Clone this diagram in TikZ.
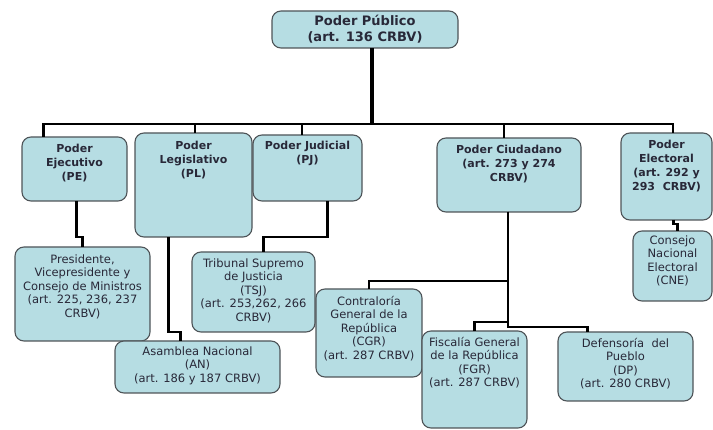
\documentclass[tikz,border=0pt]{standalone}
\usepackage{fontspec}
\setmainfont{DejaVu Sans}
\usetikzlibrary{calc}
\definecolor{cajafill}{RGB}{182,221,227}
\definecolor{cajaborde}{RGB}{78,84,88}
\definecolor{texto}{RGB}{40,40,56}
\newcommand{\caja}[4]{\parbox[t][#2pt][t]{#1pt}{\centering\vspace*{#3pt}\strut#4}}
\tikzset{
  box/.style={draw=cajaborde, fill=cajafill, line width=1.1pt, rounded corners=9pt,
    inner sep=0pt, outer sep=0pt, anchor=north west, text=texto},
  nivel1/.style={box, font=\bfseries\fontsize{11}{14}\selectfont},
  nivel2/.style={box, font=\fontsize{11.5}{13.5}\selectfont},
  conn/.style={line width=2.4pt},
  tronco/.style={line width=3.2pt}
}

\begin{document}
\begin{tikzpicture}[x=1pt,y=-1pt]
            \useasboundingbox (0,0) rectangle (713,430);
            \node[box, font=\bfseries\fontsize{13}{16}\selectfont] at (272,11) (PP) {\caja{186}{37}{3}{Poder Público\\(art. 136 CRBV)}};

            \node[nivel1] at (22,137) (PE) {\caja{105}{64}{6}{Poder\\Ejecutivo\\(PE)}};
            \node[nivel1] at (135,133) (PL) {\caja{117}{104}{7}{Poder\\Legislativo\\(PL)}};
            \node[nivel1] at (253,135) (PJ) {\caja{109}{66}{5}{Poder Judicial\\(PJ)}};
            \node[nivel1] at (437,138) (PC) {\caja{144}{74}{6}{Poder Ciudadano\\(art. 273 y 274\\CRBV)}};
            \node[nivel1] at (621,133) (PEL) {\caja{91}{87}{6}{Poder\\Electoral\\(art. 292 y\\293\ \ CRBV)}};

            \node[nivel2] at (15,247) (PRES) {\caja{135}{94}{7}{Presidente,\\Vicepresidente y\\Consejo de Ministros\\(art. 225, 236, 237\\CRBV)}};
            \node[nivel2] at (115,341) (AN) {\caja{165}{52}{5}{Asamblea Nacional\\(AN)\\(art. 186 y 187 CRBV)}};
            \node[nivel2] at (192,252) (TSJ) {\caja{123}{80}{6}{Tribunal Supremo\\de Justicia\\(TSJ)\\(art. 253,262, 266\\CRBV)}};
            \node[nivel2] at (316,289) (CGR) {\caja{106}{88}{7}{Contraloría\\General de la\\República\\(CGR)\\(art. 287 CRBV)}};
            \node[nivel2] at (422,331) (FGR) {\caja{105}{97}{6}{Fiscalía General\\de la República\\(FGR)\\(art. 287 CRBV)}};
            \node[nivel2] at (558,332) (DP) {\caja{135}{69}{6}{Defensoría\ \ del\\Pueblo\\(DP)\\(art. 280 CRBV)}};
            \node[nivel2] at (633,231) (CNE) {\caja{79}{70}{4}{Consejo\\Nacional\\Electoral\\(CNE)}};

            \coordinate (bar) at (372,124);
            \draw[tronco] ([xshift=7pt]PP.south) -- (bar);
            \draw[conn] ([xshift=-31pt]PE.north) |- (bar);
            \draw[conn] ([xshift=1.5pt]PL.north) |- (bar);
            \draw[conn] ([xshift=-5.5pt]PJ.north) |- (bar);
            \draw[conn] ([xshift=-5pt]PC.north) |- (bar);
            \draw[conn] ([xshift=6.5pt]PEL.north) |- (bar);

            \draw[conn] ([xshift=2pt]PE.south) -- ++(0,36) -| (PRES.north);
            \draw[conn] ([xshift=-25pt]PL.south) -- ++(0,95) -| ([xshift=-17pt]AN.north);
            \draw[conn] ([xshift=20pt]PJ.south) -- ++(0,36) -| ([xshift=10pt]TSJ.north);
            \draw[conn] ([xshift=-1pt]PC.south) -- ++(0,69) -| (CGR.north);
            \draw[conn] ([xshift=-1pt]PC.south) -- ++(0,110) -| (FGR.north);
            \draw[conn] ([xshift=-1pt]PC.south) -- ++(0,115) -| ([xshift=-38pt]DP.north);
            \draw[conn] ([xshift=7pt]PEL.south) -- ++(0,4) -| ([xshift=5pt]CNE.north);
        \end{tikzpicture}
\end{document}
